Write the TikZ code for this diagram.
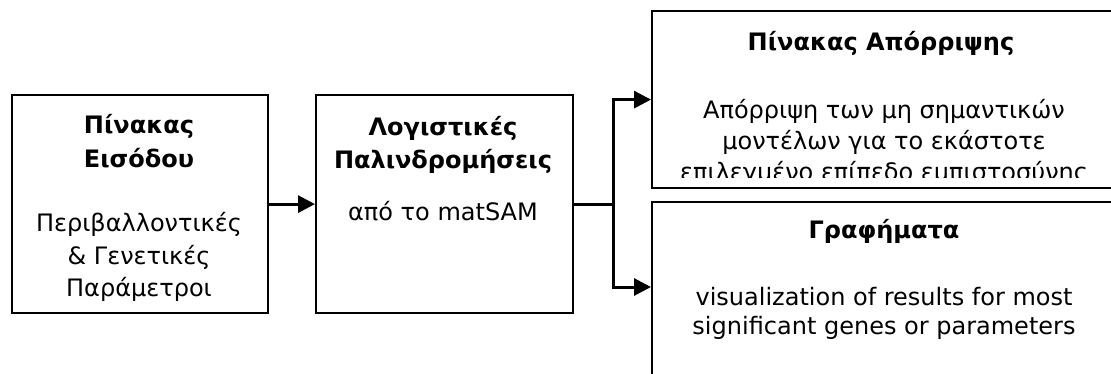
\documentclass[tikz,border=0pt]{standalone}
\usepackage{fontspec}
\setmainfont{DejaVu Sans}
\usetikzlibrary{arrows.meta}
\begin{document}
\begin{tikzpicture}[x=1pt,y=-1pt,
  box/.style={draw=black, line width=2.2pt, anchor=north west, inner sep=0pt},
  head/.style={font=\fontsize{24}{32}\selectfont\bfseries, align=center, inner sep=0pt, anchor=base},
  txt/.style={font=\fontsize{24}{32}\selectfont, align=center, inner sep=0pt, anchor=base},
  link/.style={draw=black, line width=3pt, -{Triangle[length=17pt,width=17pt]}},
  wire/.style={draw=black, line width=3pt}]
\useasboundingbox (0,0) rectangle (1111,373);
\clip (0,0) rectangle (1111,373);

% boxes
\node[box, minimum width=256pt, minimum height=218pt] (b1) at (11,94) {};
\node[box, minimum width=257pt, minimum height=218pt] (b2) at (315,94) {};
\node[box, minimum width=470pt, minimum height=177pt] (b3) at (651,10) {};
\node[box, minimum width=470pt, minimum height=220pt] (b4) at (651,201) {};

% input table
\node[head] (t1a) at (139,133) {Πίνακας};
\node[head] (t1b) at (139,167) {Εισόδου};
\node[txt] (s1a) at (139,231) {Περιβαλλοντικές};
\node[txt] (s1b) at (139,264) {\& Γενετικές};
\node[txt] (s1c) at (139,296) {Παράμετροι};

% logistic regressions
\node[head] (t2a) at (443,135) {Λογιστικές};
\node[head] (t2b) at (443,168) {Παλινδρομήσεις};
\node[txt] (s2a) at (443,220) {από το matSAM};

% rejection table
\node[head] (t3) at (881,50) {Πίνακας Απόρριψης};
\begin{scope}
  \clip (651,10) rectangle (1111,177);
  \node[txt] (s3a) at (884,118) {Απόρριψη των μη σημαντικών};
  \node[txt] (s3b) at (884,149) {μοντέλων για το εκάστοτε};
  \node[txt] (s3c) at (884,180) {επιλεγμένο επίπεδο εμπιστοσύνης};
\end{scope}

% plots
\node[head] (t4) at (884,238) {Γραφήματα};
\node[txt] (s4a) at (884,305) {visualization of results for  most};
\node[txt] (s4b) at (884,334) {significant genes or parameters};

% connectors
\draw[link] (b1.east) -- (b2.west);
\draw[wire] (b2.east) -- ++(39,0) coordinate (split);
\coordinate (in4) at (651,287);
\draw[link] (split) |- (b3.west);
\draw[link] (split) |- (in4);
\end{tikzpicture}
\end{document}
